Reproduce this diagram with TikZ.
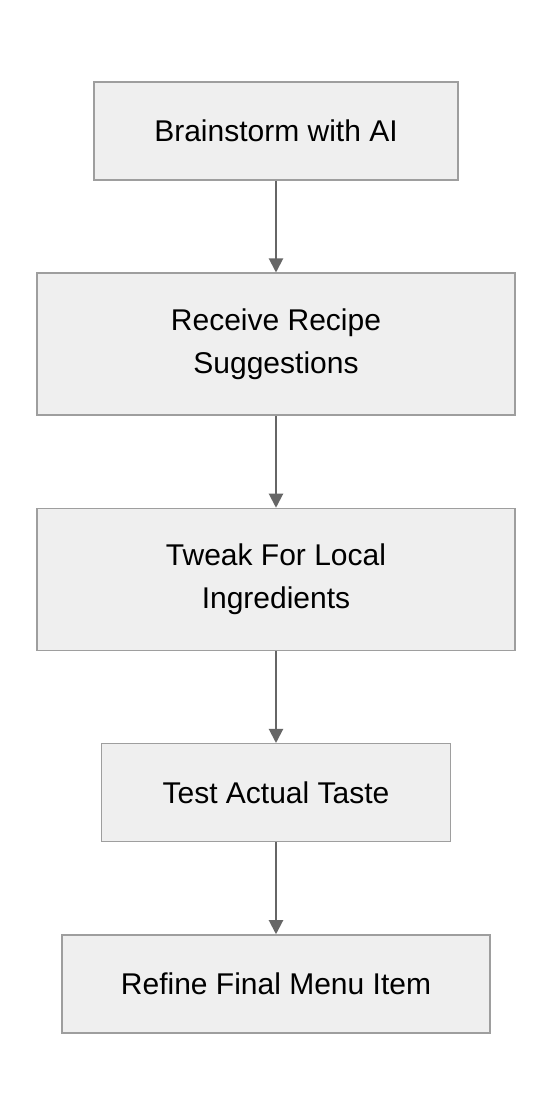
\documentclass[tikz,border=0pt]{standalone}
\usepackage{fontspec}
\setmainfont{Liberation Sans}
\usetikzlibrary{arrows.meta,positioning}

\definecolor{boxfill}{HTML}{EFEFEF}
\definecolor{boxline}{HTML}{9E9E9E}
\definecolor{flowline}{HTML}{666666}

\begin{document}
\begin{tikzpicture}[x=1pt,y=1pt,
  stepbox/.style={draw=boxline, line width=1.5pt, fill=boxfill, align=center,
    font=\fontsize{30}{43}\selectfont, inner sep=0pt},
  flow/.style={-{Triangle[length=14pt,width=14pt]}, draw=flowline, line width=2pt},
  node distance=91.75pt]
\useasboundingbox[fill=white] (0,0) rectangle (552,1116);
% recipe steps
\node[stepbox, minimum width=364pt, minimum height=98pt] (brainstorm) at (276,985) {Brainstorm with AI};
\node[stepbox, minimum width=478pt, minimum height=142pt, below=of brainstorm] (receive) {Receive Recipe\\ Suggestions};
\node[stepbox, minimum width=478pt, minimum height=142pt, below=of receive] (tweak) {Tweak For Local\\ Ingredients};
\node[stepbox, minimum width=349pt, minimum height=98pt, below=of tweak] (taste) {Test Actual Taste};
\node[stepbox, minimum width=428pt, minimum height=98pt, below=of taste] (refine) {Refine Final Menu Item};
% connectors
\draw[flow] (brainstorm) -- (receive);
\draw[flow] (receive) -- (tweak);
\draw[flow] (tweak) -- (taste);
\draw[flow] (taste) -- (refine);
\end{tikzpicture}
\end{document}
